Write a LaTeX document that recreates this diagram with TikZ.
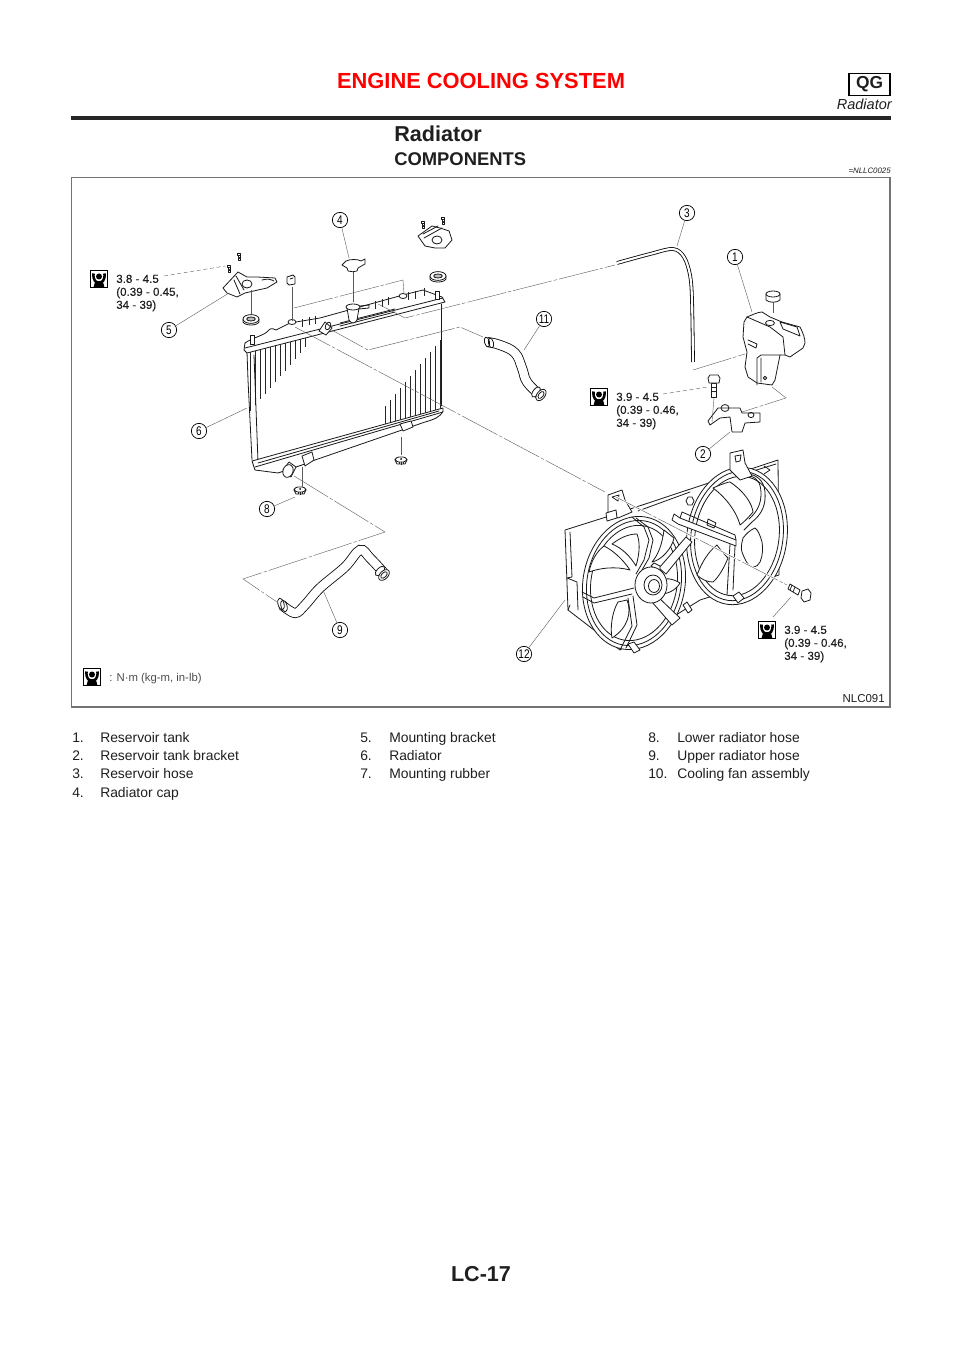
\documentclass[tikz,border=0pt]{standalone}
\usepackage{fontspec}
\setmainfont{Liberation Sans}
\newfontfamily\callfont[FakeStretch=0.8]{Liberation Sans}
\newfontfamily\torquefont[FakeBold=0.25]{Liberation Sans}
\definecolor{leadgray}{gray}{0.35}
\definecolor{textgray}{gray}{0.12}
\tikzset{
  part/.style={line width=.6pt,draw=black!90,line join=round,line cap=round},
  whitepart/.style={part,fill=white},
  fin/.style={line width=.55pt,draw=black!85},
  hose/.style={line width=.6pt,draw=black,double=white,double distance=6.3pt,line cap=butt},
  tube/.style={line width=.6pt,draw=black,double=white,double distance=1.6pt,line cap=butt},
  leader/.style={line width=.3pt,draw=leadgray},
  chain/.style={line width=.3pt,draw=leadgray,dash pattern=on 30pt off 1.5pt on 2.5pt off 1.5pt},
  halo/.style={line width=1.6pt,draw=white},
  callout/.style={circle,draw,line width=.55pt,inner sep=0pt,minimum size=11.5pt,font=\callfont\fontsize{9.4}{9.4}\selectfont,fill=white},
  torquetext/.style={anchor=west,align=left,inner sep=0pt,text=textgray,font=\torquefont\fontsize{8.7}{9.75}\selectfont},
  itemtext/.style={anchor=base west,inner sep=0pt,text=textgray,font=\fontsize{10.4}{13}\selectfont},
  grommet/.pic={
    \draw[whitepart] (-6,-1) -- (-4,3) -- (4,3) -- (6,-1) -- cycle;
    \draw[whitepart] (0,-1.5) ellipse [x radius=6,y radius=2.6];
    \fill[black] (0,-2) circle (1);
    \draw[fin] (-2,1) -- (-2,3) (0,1) -- (0,3.5) (2,1) -- (2,3);
  },
  mountrubber/.pic={
    \draw[whitepart] (-8,0) -- (-8,3) .. controls (-6,7) and (6,7) .. (8,3) -- (8,0);
    \draw[whitepart] (0,0) ellipse [x radius=8,y radius=4.4];
    \draw[part,fill=black!25] (0,0) ellipse [x radius=4.4,y radius=2];
  },
  screw/.pic={
    \draw[whitepart] (-1.6,-3) rectangle (1.6,-.5);
    \draw[whitepart] (-.9,-.5) rectangle (.9,4);
    \draw[fin] (-.9,1) -- (.9,1) (-.9,2.5) -- (.9,2.5);
  },
  torquemark/.pic={
    \draw[line width=.8pt,draw=black,fill=white] (-8.5,-8.5) rectangle (8.5,8.5);
    \draw[line width=1.9pt,draw=black] (-5.5,-5.5) .. controls (-6,2) and (-3,3.5) .. (0,3.5) .. controls (3,3.5) and (6,2) .. (5.5,-5.5);
    \fill[black] (0,-2.5) circle (3);
    \fill[black] (-4,3) -- (4,3) -- (5.5,8.5) -- (-5.5,8.5) -- cycle;
  }
}

\begin{document}
\begin{tikzpicture}[x=.75pt,y=-.75pt]
	\useasboundingbox (0,0) rectangle (960,1358);
	% page head
	\node[anchor=base,inner sep=0pt,text=red,font=\bfseries\fontsize{16.4}{18}\selectfont] (headline) at (481,88.5) {ENGINE COOLING SYSTEM};
	\node[draw,line width=1.1pt,minimum width=30.5pt,minimum height=16.5pt,inner sep=0pt,text=textgray,font=\bfseries\fontsize{13}{14}\selectfont] (engine) at (869.5,84.5) {QG};
	\node[anchor=base east,inner sep=0pt,text=textgray,font=\itshape\fontsize{10.9}{12}\selectfont] (sectname) at (892,110) {Radiator};
	\fill[black!85] (71,116.3) rectangle (891,119.8);
	\node[anchor=base west,inner sep=0pt,text=textgray,font=\bfseries\fontsize{16.2}{20}\selectfont] (title) at (394,142) {Radiator};
	\node[anchor=base west,inner sep=0pt,text=textgray,font=\bfseries\fontsize{13.8}{15}\selectfont] (subtitle) at (394,166) {COMPONENTS};
	\node[anchor=base east,inner sep=0pt,text=textgray,font=\itshape\fontsize{5.9}{7}\selectfont] (refcode) at (891,174) {=NLLC0025};
	\draw[line width=.8pt,draw=black!55] (71.5,177.5) rectangle (890,707);
	\node[anchor=base east,inner sep=0pt,text=textgray,font=\fontsize{8.6}{10}\selectfont] (figcode) at (885,702) {NLC091};

	% fan assembly: back plate
	\draw[whitepart] (565,530) -- (603,518) -- (778,460) -- (779,575) -- (700,600) -- (620,650) -- (568,610) -- cycle;
	\draw[part] (570,532) -- (572,577) -- (567,578) (567,578) -- (577,582) -- (578,610) (570,605) -- (568,610);
	\draw[part] (638,511) -- (690,492) (750,472) -- (776,464);
	\draw[part] (688,497) -- (692,497) -- (694,501) -- (692,505) -- (688,505) -- (686,501) -- cycle;
	% right fan
	\draw[whitepart] (737,536) ellipse [x radius=50,y radius=69,rotate=-8];
	\draw[part] (737,536) ellipse [x radius=46,y radius=65,rotate=-8];
	\draw[part] (737,536) ellipse [x radius=42,y radius=60,rotate=-8];
	\draw[whitepart] (713,488) .. controls (722,484) and (728,482) .. (730,482) .. controls (745,492) and (752,504) .. (753,512) .. controls (748,518) and (744,522) .. (740,525) .. controls (736,510) and (724,496) .. cycle;
	\draw[whitepart] (697,575) .. controls (702,562) and (708,552) .. (717,545) .. controls (722,552) and (726,556) .. (728,558) .. controls (724,568) and (718,578) .. (713,582) .. controls (708,582) and (702,580) .. cycle;
	\draw[whitepart] (743,538) .. controls (741,545) and (741,550) .. (742,552) .. controls (745,560) and (748,566) .. (752,567) .. controls (756,567) and (759,565) .. (760,562) .. controls (763,555) and (763,548) .. (762,542) .. controls (760,535) and (758,530) .. (755,528) .. controls (750,530) and (746,534) .. cycle;
	\draw[part] (746,474) .. controls (756,474) and (764,480) .. (765,492) .. controls (766,505) and (762,514) .. (752,522) -- (744,530);
	\draw[part] (750,476) .. controls (758,478) and (761,484) .. (761,494) .. controls (761,504) and (757,512) .. (749,519);
	\draw[part] (764,466) -- (770,470) -- (764,474);
	% tab of right fan
	\draw[whitepart] (730,470) -- (730,453) -- (743,450) -- (745,463) -- (752,476) -- (740,480) -- cycle;
	\draw[part] (735,456) -- (741,455) -- (740,461) -- (736,462) -- cycle;
	% bar between the fans
	\draw[whitepart] (674,514) -- (680,518) -- (736,540) -- (736,546) -- (678,524) -- (672,520) -- cycle;
	\draw[part] (680,518) -- (682,512) -- (735,535) -- (736,540);
	\draw[part] (708,519) -- (716,523) -- (714,528) -- (707,525) -- cycle;
	\draw[part] (735,546) -- (733,590) (730,544) -- (727,595);
	\draw[whitepart] (733,596) -- (739,592) -- (744,598) -- (738,603) -- cycle;
	% left fan
	\draw[whitepart] (634,583) ellipse [x radius=51,y radius=67,rotate=-10];
	\draw[part] (634,583) ellipse [x radius=47,y radius=63,rotate=-10];
	\draw[part] (634,583) ellipse [x radius=43,y radius=58,rotate=-10];
	\draw[whitepart] (630,570) .. controls (622,558) and (612,550) .. (604,546) .. controls (596,552) and (591,562) .. (589,572) .. controls (600,568) and (615,566) .. cycle;
	\draw[whitepart] (636,566) .. controls (640,552) and (640,542) .. (637,534) .. controls (628,534) and (620,538) .. (612,544) .. controls (622,548) and (630,556) .. cycle;
	\draw[whitepart] (627,600) .. controls (632,612) and (628,628) .. (612,638) .. controls (610,628) and (612,612) .. (618,602) -- cycle;
	\draw[whitepart] (664,530) .. controls (662,545) and (658,555) .. (652,562) .. controls (662,560) and (672,548) .. (674,538) -- cycle;
	\draw[whitepart] (680,583) .. controls (672,578) and (665,578) .. (660,580) .. controls (660,586) and (660,590) .. (661,594) .. controls (668,594) and (676,590) .. cycle;
	% straps and hub of left fan
	\draw[part] (582,592) -- (594,598) -- (634,588);
	\draw[part] (583,597) -- (594,603) -- (632,594);
	\draw[part] (628,598) -- (632,626) -- (621,648) (633,596) -- (637,625) -- (626,648);
	\draw[part] (632,517) -- (644,527) -- (649,540) -- (644,560) -- (636,574);
	\draw[part] (636,518) -- (648,527) -- (653,540) -- (649,558) -- (642,570);
	\draw[whitepart] (657,596) -- (652,602) -- (672,625) -- (680,618) -- cycle;
	\draw[whitepart] (659,568) -- (666,574) -- (692,542) -- (686,537) -- cycle;
	\draw[whitepart] (651,566) -- (654,563) -- (660,566) -- (660,572) -- cycle;
	\draw[whitepart] (651,585) ellipse [x radius=16,y radius=18];
	\draw[whitepart] (653,585) ellipse [x radius=9,y radius=10];
	\draw[part] (654,586) ellipse [x radius=5.5,y radius=6.5];
	\draw[whitepart] (628,644) -- (634,642) -- (640,650) -- (634,653) -- cycle;
	\draw[whitepart] (683,605) -- (687,602) -- (692,610) -- (688,613) -- cycle;
	% tab of left fan
	\draw[whitepart] (608,512) -- (608,495) -- (622,490) -- (625,500) -- (632,512) -- (618,518) -- cycle;
	\draw[part] (612,497) -- (619,495) -- (618,501) -- cycle;
	\draw[whitepart] (606,513) -- (616,510) -- (617,518) -- (607,521) -- cycle;

	% radiator core
	\foreach \xx in {250,255,...,305}
		\draw[fin] (\xx,{352-(\xx-247)*.25}) -- (\xx,{405-(\xx-255)*1.15});
	\foreach \xx in {385,390,...,440}
		\draw[fin] (\xx,{461-(\xx-252)*.2775}) -- (\xx,{408-(\xx-383)*1.2});
	\draw[part] (247,352) -- (248,380) -- (252,460);
	\draw[part] (254,355) -- (258,462);
	\draw[part] (441,304) -- (441,406);
	% radiator top tank
	\draw[whitepart] (245,343) .. controls (252,338) and (262,336) .. (267,332) .. controls (270,328) and (272,328) .. (276,330) -- (290,323) -- (320,318) -- (403,295) -- (423,290) -- (442,297) -- (445,302) -- (247,353) -- (244,350) -- cycle;
	\draw[part] (245,348) -- (443,298);
	\draw[part] (340,323) -- (395,309) (395,312) -- (340,326);
	\foreach \xx in {302,309,315,375,382,388,408,415,424}
		\draw[fin] (\xx,{344-(\xx-250)*.25-12}) -- (\xx,{344-(\xx-250)*.25-4});
	% radiator bottom tank
	\draw[whitepart] (252,461) -- (443,408) -- (443,411) .. controls (440,418) and (432,420) .. (425,422) -- (402,430) -- (315,460) -- (302,465) -- (278,473) -- (255,470) -- cycle;
	\draw[part] (258,463) -- (439,411);
	\draw[part] (255,467) -- (443,412);
	\draw[whitepart] (302,456) -- (312,452) -- (314,460) -- (305,466) -- cycle;
	\draw[whitepart] (400,424) -- (411,421) -- (413,427) -- (403,431) -- cycle;
	% outlet of the lower tank
	\draw[whitepart] (283,470) -- (289,462) -- (296,467) -- (291,477) -- cycle;
	\draw[whitepart] (288,471) ellipse [x radius=5,y radius=6.5,rotate=-20];
	% filler neck and side pipe
	\draw[whitepart] (347,308) -- (349,320) .. controls (351,324) and (355,324) .. (357,320) -- (359,308) -- cycle;
	\draw[whitepart] (353,307) ellipse [x radius=7,y radius=3];
	\draw[part] (360,306) -- (369,305) -- (369,308) -- (359,309);
	\draw[whitepart] (319,331) -- (325,322) -- (332,328) -- (326,335) -- cycle;
	\draw[part] (328,326) ellipse [x radius=2.5,y radius=4,rotate=-25];
	% pins and clips on the tank
	\draw[whitepart] (250,335) rectangle (254,344);
	\draw[whitepart] (435,291) rectangle (439,299);
	\draw[whitepart] (292,322) ellipse [x radius=4,y radius=2.5];
	\draw[whitepart] (403,296) ellipse [x radius=4,y radius=2.5];

	% small parts of the radiator
	\draw[whitepart] (223,288) -- (238,272) -- (247,277) -- (257,277) -- (275,278) -- (277,282) -- (267,288) -- (258,290) -- (245,293) -- (237,297) -- (227,293) -- cycle;
	\draw[part] (247,284) ellipse [x radius=5,y radius=4];
	\draw[part] (236,276) -- (244,290) (234,280) -- (240,294);
	\draw[part] (262,280) .. controls (268,278) and (272,280) .. (274,281);
	\draw[whitepart] (418,236) -- (432,226) -- (440,228) -- (449,231) -- (452,240) -- (445,248) -- (435,248) -- (425,246) -- cycle;
	\draw[part] (423,234) -- (438,226) (424,238) -- (442,228);
	\draw[part] (437,240) ellipse [x radius=5,y radius=4];
	\pic at (239,256) {screw};
	\pic at (229,268) {screw};
	\pic at (423,224) {screw};
	\pic at (443,220) {screw};
	\pic at (251,319) {mountrubber};
	\pic at (438,276) {mountrubber};
	\pic at (300,491) {grommet};
	\pic at (401,461) {grommet};
	% clip
	\draw[whitepart] (287,277) -- (293,275) -- (295,277) -- (295,284) -- (289,285) -- (287,283) -- cycle;
	\draw[part] (290,279) -- (293,278);
	% radiator cap
	\draw[whitepart] (342,265) -- (346,261) .. controls (350,259) and (358,259) .. (361,261) -- (365,259) -- (365,264) -- (358,268) -- (357,271) .. controls (354,272) and (351,272) .. (348,271) -- (347,268) -- cycle;

	% hoses
	\draw[tube] plot[smooth,tension=.55] coordinates {(617,263) (650,254) (673,249) (684,257) (690,275) (692,300) (693,362)};
	\draw[hose] plot[smooth,tension=.7] coordinates {(487,342) (500,345) (515,353) (522,368) (527,382) (540,395)};
	\draw[whitepart] (487,342) ellipse [x radius=2.5,y radius=5,rotate=15];
	\draw[part] (491,343) ellipse [x radius=2.5,y radius=5,rotate=15];
	\draw[whitepart] (536,392) ellipse [x radius=3,y radius=6,rotate=-38];
	\draw[whitepart] (541,395) ellipse [x radius=4,y radius=6.5,rotate=-38];
	\draw[part] (541,395) ellipse [x radius=2.3,y radius=4,rotate=-38];
	\draw[hose] plot[smooth,tension=.6] coordinates {(282,605) (295,613) (305,605) (320,588) (345,567) (360,550) (370,558) (384,573)};
	\draw[whitepart] (281,604) ellipse [x radius=3,y radius=6,rotate=15];
	\draw[part] (284,606) ellipse [x radius=3,y radius=6,rotate=15];
	\draw[whitepart] (380,571) ellipse [x radius=3,y radius=6,rotate=-45];
	\draw[whitepart] (384,575) ellipse [x radius=4,y radius=6.5,rotate=-45];
	\draw[part] (384,575) ellipse [x radius=2.3,y radius=4,rotate=-45];

	% reservoir tank
	\draw[whitepart] (744,322) -- (747,317) .. controls (752,315) and (758,312) .. (762,312) -- (770,317) -- (782,322) -- (800,327) .. controls (803,333) and (805,338) .. (805,343) -- (803,348) -- (790,357) -- (785,355) -- (780,355) -- (775,380) -- (772,385) -- (757,383) -- (748,377) -- (745,367) -- (747,352) -- (743,337) -- cycle;
	\draw[part] (747,317) -- (770,327) -- (783,337) -- (785,355);
	\draw[part] (780,322) -- (797,327) -- (800,336) -- (783,329) -- cycle;
	\draw[part] (748,340) -- (757,344) -- (756,348) -- (748,344);
	\draw[part] (757,385) -- (757,358) -- (761,355) -- (780,355) (761,358) -- (761,382);
	\draw[part] (770,323) ellipse [x radius=4.5,y radius=2.6];
	\draw[part] (765,378) circle (1.8);
	\draw[whitepart] (766,294) -- (766,300) .. controls (769,303) and (777,303) .. (780,300) -- (780,294);
	\draw[whitepart] (773,294) ellipse [x radius=7,y radius=3];

	% reservoir tank bracket and its bolt
	\draw[whitepart] (718,408) -- (740,408) -- (742,413) -- (760,413) -- (760,422) -- (745,423) -- (742,432) -- (732,432) -- (730,417) -- (720,418) -- (710,425) -- (708,421) -- cycle;
	\draw[part] (725,408) ellipse [x radius=4,y radius=3.5];
	\draw[part] (751,415) ellipse [x radius=3,y radius=2.6];
	\draw[whitepart] (711.5,383) rectangle (716.5,397);
	\draw[whitepart] (708,378) -- (710,375) -- (718,375) -- (720,378) -- (719,383) -- (709,383) -- cycle;
	\draw[fin] (711.5,387) -- (716.5,387) (711.5,391) -- (716.5,391);
	% bolt on the fan
	\draw[whitepart] (790,584) -- (800,590) -- (798,595) -- (788,589) -- cycle;
	\draw[fin] (792,585) -- (790,590) (795,587) -- (793,592);
	\draw[whitepart] (801,598) -- (802,591) -- (808,589) -- (811,593) -- (810,600) -- (804,602) -- cycle;

	% free ends of the leaders
	\coordinate (tipone) at (752,312);
	\coordinate (tiptwo) at (730,432);
	\coordinate (tipthree) at (677,246);
	\coordinate (tipfour) at (349,258);
	\coordinate (tipfive) at (229,293);
	\coordinate (tipsix) at (247,408);
	\coordinate (tipeight) at (295,497);
	\coordinate (tipnine) at (323,590);
	\coordinate (tipeleven) at (524,350);
	\coordinate (tiptwelve) at (565,600);
	\coordinate (clipbot) at (292,321);
	\coordinate (cliptop) at (292,287);
	\coordinate (rodleft) at (294,308);
	\coordinate (rodbend) at (403,280);
	\coordinate (rodright) at (404,294);
	\coordinate (hoseA) at (378,304);
	\coordinate (hoseAa) at (405,318);
	\coordinate (hoseAb) at (615,265);
	\coordinate (hoseB) at (328,328);
	\coordinate (hoseBa) at (368,350);
	\coordinate (hoseBb) at (460,327);
	\coordinate (hoseBc) at (483,337);
	\coordinate (lowerA) at (294,476);
	\coordinate (lowerB) at (385,532);
	\coordinate (lowerC) at (243,579);
	\coordinate (lowerD) at (277,602);
	\coordinate (fanA) at (295,327);
	\coordinate (fanB) at (605,492);
	\coordinate (fanC) at (616,497);
	\coordinate (fanD) at (787,585);
	\coordinate (capA) at (353,272);
	\coordinate (capB) at (353,302);
	\coordinate (rubA) at (251,290);
	\coordinate (rubB) at (251,314);
	\coordinate (growA) at (302,467);
	\coordinate (growB) at (302,487);
	\coordinate (grotA) at (401,437);
	\coordinate (grotB) at (401,455);
	\coordinate (tubeA) at (693,370);
	\coordinate (tubeB) at (745,354);
	\coordinate (brA) at (772,387);
	\coordinate (brB) at (786,398);
	\coordinate (brC) at (742,412);
	\coordinate (boltA) at (714,398);
	\coordinate (boltB) at (712,422);
	\coordinate (lidA) at (773,302);
	\coordinate (lidB) at (773,313);
	\coordinate (tqoneA) at (164,276);
	\coordinate (tqoneB) at (225,266);
	\coordinate (tqtwoA) at (663,394);
	\coordinate (tqtwoB) at (708,387);
	\coordinate (tqthrA) at (773,617);
	\coordinate (tqthrB) at (791,597);

	% assembly lines
	\draw[chain] (clipbot) -- (cliptop);
	\draw[chain] (rodleft) -- (rodbend) -- (rodright);
	\draw[chain] (hoseA) -- (hoseAa) -- (hoseAb);
	\draw[chain] (hoseB) -- (hoseBa) -- (hoseBb) -- (hoseBc);
	\draw[chain] (lowerA) -- (lowerB) -- (lowerC) -- (lowerD);
	\draw[chain] (fanA) -- (fanB);
	\draw[halo] (fanC) -- (fanD);
	\draw[chain] (fanC) -- (fanD);
	\draw[leader] (capA) -- (capB);
	\draw[leader] (rubA) -- (rubB);
	\draw[chain] (growA) -- (growB);
	\draw[chain] (grotA) -- (grotB);
	\draw[chain] (tubeA) -- (tubeB);
	\draw[chain] (brA) -- (brB) -- (brC);
	\draw[leader] (boltA) -- (boltB);
	\draw[leader] (lidA) -- (lidB);

	% numbered callouts
	\node[callout] (callone) at (735,257) {1};
	\node[callout] (calltwo) at (703,454) {2};
	\node[callout] (callthree) at (687,213) {3};
	\node[callout] (callfour) at (340,220) {4};
	\node[callout] (callfive) at (169,330) {5};
	\node[callout] (callsix) at (199,431) {6};
	\node[callout] (calleight) at (267,509) {8};
	\node[callout] (callnine) at (340,630) {9};
	\node[callout] (calleleven) at (544,319) {11};
	\node[callout] (calltwelve) at (524,654) {12};
	\draw[leader] (callone) -- (tipone);
	\draw[leader] (calltwo) -- (tiptwo);
	\draw[leader] (callthree) -- (tipthree);
	\draw[leader] (callfour) -- (tipfour);
	\draw[leader] (callfive) -- (tipfive);
	\draw[leader] (callsix) -- (tipsix);
	\draw[leader] (calleight) -- (tipeight);
	\draw[leader] (callnine) -- (tipnine);
	\draw[leader] (calleleven) -- (tipeleven);
	\draw[leader] (calltwelve) -- (tiptwelve);

	% torque values
	\pic at (99,279) {torquemark};
	\node[torquetext] (torqueone) at (116,293) {3.8 - 4.5\\(0.39 - 0.45,\\34 - 39)};
	\draw[leader,densely dashed] (tqoneA) -- (tqoneB);
	\pic at (599,397) {torquemark};
	\node[torquetext] (torquetwo) at (616,411) {3.9 - 4.5\\(0.39 - 0.46,\\34 - 39)};
	\draw[leader,densely dashed] (tqtwoA) -- (tqtwoB);
	\pic at (767,630) {torquemark};
	\node[torquetext] (torquethree) at (784,644) {3.9 - 4.5\\(0.39 - 0.46,\\34 - 39)};
	\draw[leader] (tqthrA) -- (tqthrB);
	\pic at (92,677) {torquemark};
	\node[anchor=west,inner sep=0pt,text=black!70,font=\fontsize{8.5}{10}\selectfont] (torqueunit) at (109,678.5) {: N·m (kg-m, in-lb)};

	% parts list
	\node[itemtext] (numone) at (72,742) {1.};
	\node[itemtext] (txtone) at (100,742) {Reservoir tank};
	\node[itemtext] (numtwo) at (72,760.3) {2.};
	\node[itemtext] (txttwo) at (100,760.3) {Reservoir tank bracket};
	\node[itemtext] (numthree) at (72,778.6) {3.};
	\node[itemtext] (txtthree) at (100,778.6) {Reservoir hose};
	\node[itemtext] (numfour) at (72,797) {4.};
	\node[itemtext] (txtfour) at (100,797) {Radiator cap};
	\node[itemtext] (numfive) at (360,742) {5.};
	\node[itemtext] (txtfive) at (389,742) {Mounting bracket};
	\node[itemtext] (numsix) at (360,760.3) {6.};
	\node[itemtext] (txtsix) at (389,760.3) {Radiator};
	\node[itemtext] (numseven) at (360,778.6) {7.};
	\node[itemtext] (txtseven) at (389,778.6) {Mounting rubber};
	\node[itemtext] (numeight) at (648,742) {8.};
	\node[itemtext] (txteight) at (677,742) {Lower radiator hose};
	\node[itemtext] (numnine) at (648,760.3) {9.};
	\node[itemtext] (txtnine) at (677,760.3) {Upper radiator hose};
	\node[itemtext] (numten) at (648,778.6) {10.};
	\node[itemtext] (txtten) at (677,778.6) {Cooling fan assembly};

	% page number
	\node[anchor=base,inner sep=0pt,text=textgray,font=\bfseries\fontsize{16.2}{18}\selectfont] (pagenum) at (481,1281) {LC-17};
\end{tikzpicture}
\end{document}
